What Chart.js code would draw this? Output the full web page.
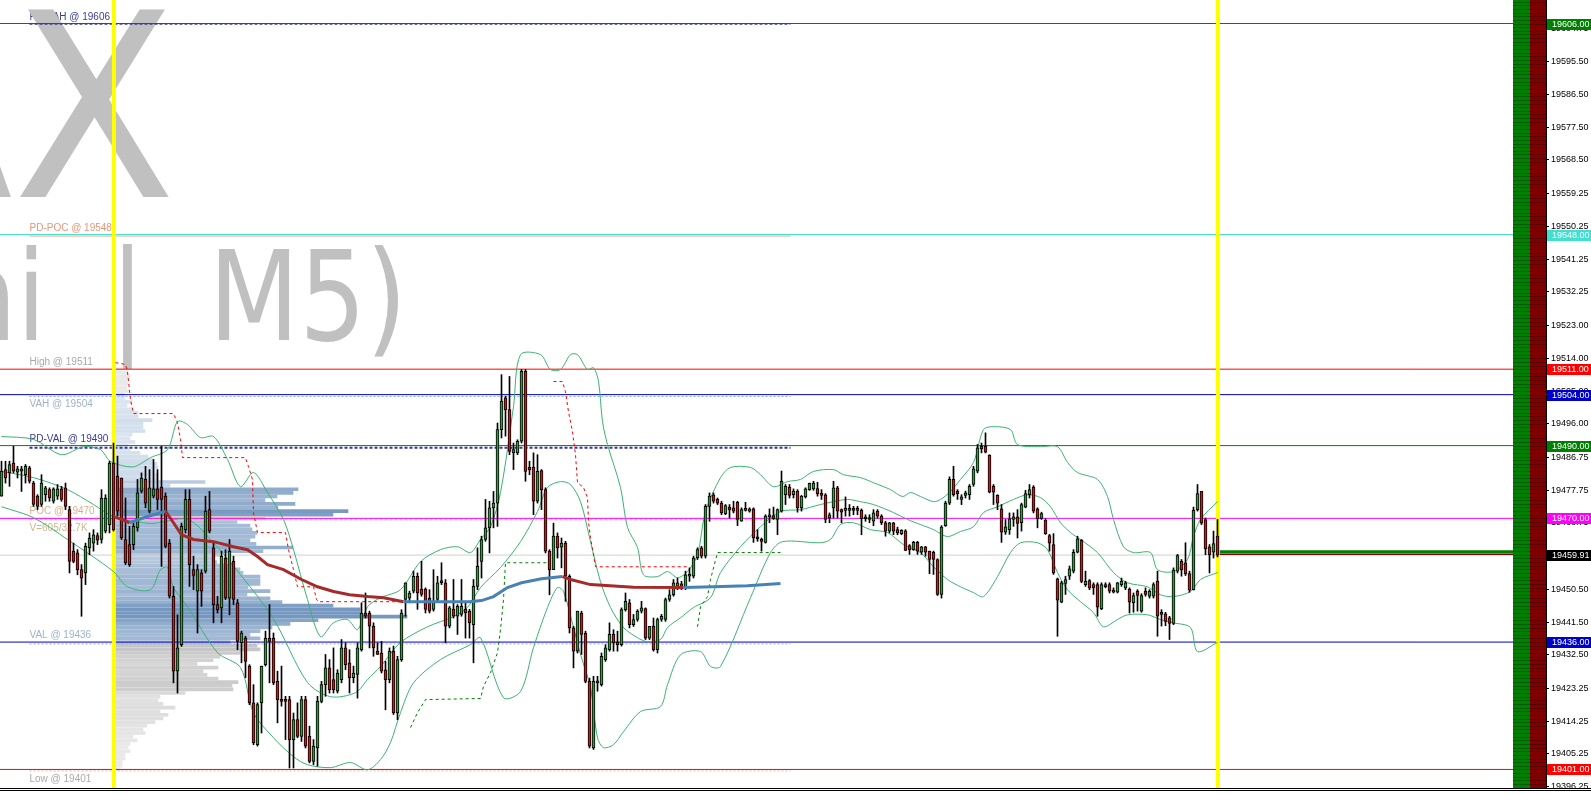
<!DOCTYPE html>
<html>
<head>
<meta charset="utf-8">
<script src="https://cdn.jsdelivr.net/npm/chart.js@4.4.0/dist/chart.umd.min.js"></script>
<style>
  html, body { margin: 0; padding: 0; background: #fff; }
</style>
</head>
<body>
<canvas id="chart" width="1591" height="794"></canvas>
<script>
// ---- candles (M5), oldest first ----
var opens = [
19476.1,19483.4,19482.5,19485.2,19482.7,19483.6,19482.0,19483.9,19479.7,19476.1,
19473.8,19476.5,19477.9,19474.7,19476.1,19478.1,19478.4,19472.4,19461.0,19460.5,
19455.9,19455.0,19461.9,19463.2,19465.3,19464.2,19466.5,19468.3,19485.2,19481.6,
19481.1,19464.2,19462.8,19462.8,19467.4,19477.5,19480.7,19472.0,19476.1,19478.1,
19478.6,19476.1,19463.2,19448.6,19428.0,19435.3,19466.9,19475.2,19455.9,19450.0,
19455.0,19455.5,19472.4,19461.9,19446.3,19445.4,19459.1,19448.1,19458.2,19446.8,
19435.8,19437.1,19429.4,19419.3,19407.8,19419.3,19429.8,19437.1,19437.1,19425.2,
19420.2,19420.2,19420.2,19409.2,19414.7,19410.1,19420.2,19410.1,19403.2,19406.9,
19419.7,19424.3,19428.9,19425.7,19422.5,19425.7,19434.4,19430.3,19426.2,19427.1,
19433.9,19444.0,19444.0,19440.4,19433.5,19433.0,19428.4,19425.7,19433.5,19416.5,
19431.2,19447.7,19448.1,19450.0,19454.1,19450.6,19450.6,19448.1,19445.0,19447.7,
19452.9,19452.3,19440.4,19445.1,19443.1,19443.6,19445.0,19444.5,19440.8,19451.3,
19458.2,19464.2,19467.4,19472.9,19474.2,19494.4,19503.1,19499.9,19488.0,19488.0,
19491.2,19510.4,19484.0,19484.0,19474.7,19483.1,19477.9,19461.0,19455.9,19465.1,
19462.1,19463.2,19454.1,19439.9,19433.5,19444.0,19438.5,19425.2,19406.9,19424.8,
19424.3,19431.2,19433.9,19438.1,19436.0,19435.3,19444.9,19446.8,19440.8,19442.2,
19444.5,19445.2,19437.1,19440.3,19433.9,19442.2,19442.2,19447.7,19449.0,19451.3,
19452.0,19450.9,19454.1,19454.1,19459.1,19461.9,19459.6,19473.3,19476.5,19475.2,
19474.2,19471.3,19473.1,19472.9,19474.4,19469.2,19472.2,19472.0,19472.6,19464.9,
19464.2,19463.4,19470.4,19470.8,19469.7,19472.0,19476.5,19478.6,19476.5,19477.5,
19472.9,19475.9,19477.9,19478.1,19478.2,19476.8,19476.5,19470.1,19472.9,19478.4,
19472.4,19472.2,19472.2,19472.6,19472.2,19472.2,19470.4,19470.1,19469.2,19472.0,
19470.6,19468.8,19466.5,19468.8,19466.9,19465.8,19466.6,19462.5,19461.4,19463.4,
19460.7,19462.2,19461.0,19460.7,19458.7,19449.1,19468.0,19474.2,19480.7,19477.5,
19475.2,19476.3,19476.5,19479.3,19483.0,19489.8,19489.8,19487.3,19478.8,19476.3,
19472.6,19466.2,19466.9,19469.7,19470.4,19468.8,19473.1,19476.5,19478.6,19472.6,
19470.0,19469.5,19465.3,19462.8,19453.4,19447.0,19452.1,19454.1,19455.5,19460.7,
19464.0,19451.8,19452.9,19451.8,19451.8,19445.1,19451.2,19451.8,19450.3,19449.7,
19451.8,19450.9,19450.6,19446.8,19450.0,19444.5,19450.0,19448.6,19448.6,19452.7,
19444.2,19443.8,19442.7,19441.1,19455.5,19458.2,19457.8,19454.8,19450.4,19472.4,
19477.4,19469.7,19462.2,19460.7,19465.1];
var highs = [
19485.7,19485.7,19485.7,19489.8,19484.3,19484.3,19484.8,19484.3,19480.2,19476.5,
19482.0,19478.8,19478.4,19478.4,19479.3,19478.8,19479.7,19473.3,19463.2,19461.4,
19457.3,19463.2,19466.0,19466.9,19466.0,19477.9,19476.5,19485.7,19490.7,19487.1,
19481.1,19475.6,19467.8,19468.7,19480.7,19482.5,19484.3,19483.4,19486.2,19483.4,
19489.8,19477.0,19464.2,19451.3,19443.5,19468.7,19477.9,19477.9,19459.6,19457.3,
19455.9,19476.1,19477.4,19463.2,19448.6,19461.0,19461.4,19464.2,19459.6,19447.7,
19439.0,19437.6,19429.8,19424.3,19419.3,19429.4,19439.0,19446.3,19438.5,19428.0,
19429.4,19421.1,19421.1,19416.5,19419.3,19421.1,19421.1,19412.9,19409.2,19421.1,
19425.2,19432.6,19431.2,19434.4,19428.4,19436.7,19435.8,19433.9,19429.4,19435.8,
19446.8,19449.5,19444.5,19441.3,19435.8,19436.2,19430.7,19434.4,19434.9,19432.1,
19444.9,19452.3,19450.0,19455.5,19455.0,19458.2,19450.9,19450.4,19455.9,19454.1,
19457.8,19453.2,19445.8,19453.2,19446.3,19453.2,19446.8,19445.0,19453.2,19461.9,
19465.1,19475.2,19474.7,19477.4,19496.2,19509.5,19503.6,19509.0,19490.7,19491.6,
19510.9,19510.9,19485.7,19488.0,19487.5,19483.4,19478.4,19461.4,19468.7,19466.0,
19464.6,19463.7,19454.5,19440.3,19444.5,19444.5,19439.0,19426.1,19426.6,19426.6,
19433.0,19435.3,19441.3,19439.4,19439.0,19445.4,19449.5,19447.7,19443.6,19444.9,
19447.2,19445.4,19440.3,19442.6,19442.6,19443.6,19448.1,19450.4,19453.2,19453.6,
19452.7,19455.5,19456.4,19459.6,19461.9,19462.3,19473.8,19477.0,19477.0,19475.6,
19474.7,19473.8,19473.8,19474.7,19474.7,19472.9,19474.4,19472.9,19472.9,19466.9,
19464.6,19471.0,19472.6,19473.1,19472.6,19483.0,19479.3,19479.3,19478.1,19477.9,
19476.3,19478.4,19479.7,19480.2,19479.9,19477.9,19476.8,19471.5,19480.2,19478.8,
19472.6,19475.9,19473.8,19473.3,19473.3,19472.6,19471.0,19471.0,19472.4,19472.4,
19471.0,19469.2,19468.9,19468.9,19467.6,19466.9,19466.9,19462.8,19463.7,19463.7,
19462.3,19462.3,19461.0,19461.0,19458.9,19468.0,19474.7,19481.4,19484.3,19477.9,
19476.5,19477.5,19479.3,19484.3,19490.3,19490.7,19493.5,19487.5,19479.3,19476.5,
19473.8,19469.7,19471.5,19471.5,19472.4,19474.2,19477.7,19479.3,19479.0,19472.9,
19471.7,19469.9,19465.6,19465.8,19453.6,19452.7,19454.1,19456.9,19461.4,19465.1,
19464.2,19455.5,19453.2,19452.3,19452.3,19452.3,19452.3,19452.3,19450.9,19452.4,
19453.6,19452.7,19450.9,19449.5,19450.4,19449.3,19450.9,19450.4,19452.3,19455.5,
19444.9,19444.2,19443.1,19456.4,19460.1,19458.7,19463.3,19455.5,19473.1,19479.3,
19477.4,19470.1,19462.8,19466.5,19469.7];
var lows = [
19476.1,19479.7,19478.8,19482.5,19481.1,19477.4,19479.7,19479.7,19473.3,19472.4,
19473.3,19474.7,19474.7,19474.2,19475.2,19474.7,19472.4,19455.0,19457.8,19454.5,
19443.1,19451.8,19460.0,19461.0,19462.8,19463.2,19466.0,19466.0,19466.5,19470.6,
19464.2,19457.3,19456.8,19461.4,19466.5,19477.0,19472.9,19471.5,19475.6,19472.4,
19456.8,19461.9,19448.1,19424.8,19422.0,19434.8,19466.0,19451.3,19450.4,19438.5,
19445.8,19455.0,19466.0,19441.3,19444.0,19441.3,19447.7,19443.5,19446.3,19433.9,
19430.3,19426.2,19418.8,19407.8,19407.4,19411.0,19429.4,19424.8,19424.3,19413.8,
19418.4,19409.2,19401.4,19401.4,19409.7,19408.7,19406.9,19402.8,19402.3,19401.9,
19419.3,19421.1,19422.0,19422.0,19422.0,19424.8,19428.4,19422.0,19424.8,19420.6,
19433.5,19442.6,19434.4,19432.1,19432.6,19427.5,19417.4,19424.8,19416.1,19414.7,
19430.7,19443.1,19446.8,19449.5,19445.0,19448.6,19444.0,19444.0,19444.5,19447.2,
19451.8,19435.8,19439.9,19442.6,19438.1,19443.1,19437.1,19437.1,19430.3,19450.4,
19453.6,19463.7,19460.5,19467.4,19467.8,19492.1,19492.6,19487.5,19483.4,19487.5,
19490.7,19480.2,19482.0,19471.0,19474.2,19472.4,19460.5,19449.0,19455.9,19459.1,
19456.4,19447.2,19438.5,19428.9,19433.0,19432.6,19424.8,19406.9,19406.5,19422.5,
19423.9,19430.7,19433.5,19433.5,19433.5,19434.9,19444.5,19439.9,19440.3,19441.7,
19444.0,19436.7,19436.7,19433.5,19433.0,19441.7,19441.7,19447.2,19448.6,19450.4,
19450.4,19450.4,19452.7,19453.6,19458.7,19459.1,19459.1,19469.2,19474.2,19473.8,
19471.0,19471.0,19470.1,19471.5,19468.0,19469.2,19472.0,19471.7,19463.4,19463.7,
19461.0,19463.2,19468.8,19469.7,19465.5,19471.7,19473.8,19475.6,19475.6,19471.7,
19472.0,19475.6,19477.7,19477.7,19476.1,19475.2,19468.8,19468.8,19470.1,19470.1,
19468.8,19470.6,19470.6,19471.0,19471.0,19465.5,19469.2,19468.8,19468.0,19470.1,
19468.3,19465.1,19466.0,19465.5,19465.5,19465.5,19461.1,19460.1,19461.2,19460.1,
19460.1,19459.6,19454.8,19454.6,19448.8,19448.1,19467.8,19473.8,19476.1,19475.2,
19473.8,19475.6,19475.2,19478.8,19482.5,19488.0,19488.0,19477.0,19473.8,19472.4,
19463.4,19465.6,19465.6,19467.8,19464.6,19466.5,19472.9,19475.6,19471.5,19467.4,
19469.7,19465.6,19461.0,19454.6,19437.6,19446.8,19449.1,19453.2,19455.0,19460.5,
19452.3,19451.3,19450.4,19449.1,19443.1,19444.9,19450.9,19449.5,19449.5,19449.5,
19451.3,19450.4,19444.0,19444.2,19444.5,19444.2,19448.6,19448.1,19448.1,19437.6,
19440.4,19440.5,19436.7,19440.8,19455.0,19454.1,19454.3,19449.7,19450.3,19472.0,
19468.3,19460.0,19455.0,19459.1,19459.4];
var closes = [
19483.0,19481.1,19484.8,19483.0,19483.6,19483.0,19484.3,19480.2,19473.8,19473.3,
19479.7,19478.4,19475.6,19478.1,19478.1,19475.2,19473.3,19458.2,19458.2,19455.9,
19453.6,19462.3,19464.6,19465.5,19464.0,19475.6,19475.6,19485.2,19466.9,19472.0,
19464.6,19457.8,19457.3,19467.8,19477.0,19481.1,19474.2,19478.4,19478.1,19475.2,
19475.2,19462.3,19448.6,19428.0,19434.4,19467.8,19475.2,19457.3,19454.3,19455.9,
19450.0,19472.0,19466.5,19446.3,19444.9,19459.6,19448.1,19461.0,19447.7,19436.2,
19438.5,19430.7,19419.3,19408.3,19418.8,19429.4,19437.1,19436.2,19424.8,19420.2,
19419.7,19419.7,19409.2,19414.7,19410.1,19420.2,19407.4,19403.2,19407.4,19419.7,
19424.3,19428.9,19422.9,19422.9,19427.5,19434.4,19429.8,19426.2,19427.5,19434.4,
19444.0,19443.1,19440.4,19434.4,19432.6,19428.0,19425.7,19433.5,19416.5,19431.2,
19444.0,19452.3,19449.5,19454.1,19449.5,19449.1,19445.0,19444.5,19447.2,19452.3,
19452.3,19440.4,19445.4,19443.1,19445.8,19445.8,19444.0,19441.3,19451.3,19456.8,
19464.2,19467.4,19472.9,19474.2,19494.4,19502.2,19499.9,19488.4,19488.9,19491.2,
19510.4,19482.9,19483.4,19474.7,19482.9,19477.9,19461.0,19455.9,19465.1,19461.9,
19463.2,19454.1,19439.9,19433.5,19444.5,19438.1,19425.2,19407.4,19425.2,19425.2,
19432.1,19434.4,19438.1,19435.8,19435.3,19444.9,19447.2,19440.8,19442.2,19444.5,
19445.4,19437.1,19440.3,19433.9,19442.2,19443.1,19447.7,19449.0,19452.3,19452.3,
19450.9,19454.5,19454.5,19459.1,19461.4,19459.6,19473.3,19476.1,19474.7,19474.2,
19471.5,19473.5,19472.4,19472.0,19469.7,19472.4,19472.6,19472.6,19464.6,19464.4,
19463.7,19470.6,19470.8,19469.9,19472.4,19480.2,19478.8,19476.3,19477.5,19472.9,
19476.1,19478.1,19479.6,19479.7,19476.8,19476.3,19469.7,19471.0,19478.4,19472.0,
19471.7,19472.6,19472.6,19472.2,19472.6,19469.9,19469.9,19469.7,19471.5,19470.6,
19468.8,19466.5,19468.8,19466.5,19466.0,19466.7,19461.2,19461.4,19463.4,19461.0,
19462.2,19460.7,19458.7,19458.7,19449.1,19467.6,19474.2,19480.7,19476.5,19476.8,
19475.9,19477.0,19478.8,19483.6,19489.4,19489.1,19488.2,19477.2,19477.2,19474.2,
19466.2,19467.7,19469.9,19470.4,19468.6,19473.8,19476.8,19477.9,19472.0,19469.9,
19471.3,19465.8,19463.2,19455.0,19447.5,19452.3,19453.2,19456.1,19460.7,19464.4,
19452.7,19452.7,19450.9,19450.9,19445.6,19451.8,19451.8,19450.0,19449.7,19452.3,
19452.7,19452.3,19447.0,19448.8,19448.8,19448.8,19449.1,19450.0,19451.8,19443.1,
19443.6,19441.7,19441.1,19455.8,19459.8,19455.8,19454.8,19450.3,19472.2,19476.8,
19468.7,19461.6,19460.0,19463.1,19459.9];

// ---- Bollinger bands, read at candle positions: [candle, price] ----
var bbUpper = [[0,19492.5],[8,19491.7],[15,19487.5],[20.5,19489.7],[24.75,19488.9],[27.25,19485.6],[33,19484.2],[37.25,19486.7],[41.5,19488.9],[44,19496.6],[46.5,19495.8],[49.75,19492.2],[53,19492.5],[56.5,19486.2],[59.75,19478.7],[63,19482.6],[66.5,19477.1],[70.5,19469.7],[73,19461.4],[76.5,19447.7],[79.75,19437.5],[83,19441.3],[86.5,19442.2],[89,19439.4],[91.5,19445.7],[94.75,19448.2],[99.75,19450.4],[104.75,19458.1],[109.75,19461.4],[114,19462.2],[117.25,19460.6],[119.75,19464.2],[122.25,19467.7],[124.75,19477.1],[128,19500.7],[129.75,19515.0],[134.75,19515.0],[137.25,19510.9],[139.75,19510.9],[142.25,19515.0],[144,19515.0],[146.5,19510.9],[148,19511.4],[149.25,19507.6],[150.25,19496.6],[151.5,19490.3],[154.75,19478.5],[156.5,19467.5],[159,19462.0],[160.5,19454.5],[164,19454.0],[166.5,19455.4],[169,19453.7],[171.5,19455.4],[174,19460.0],[176,19471.9],[179.75,19481.2],[182.25,19484.0],[187.25,19484.0],[189.75,19482.0],[193,19478.7],[196.5,19480.1],[199.75,19480.7],[203,19482.9],[208,19483.4],[210.5,19482.0],[214.75,19481.2],[218,19479.8],[222.25,19477.9],[225.25,19476.0],[227.25,19477.1],[229.75,19476.0],[233,19474.6],[234.75,19475.2],[237.25,19477.4],[239.75,19480.7],[243,19485.4],[245.5,19494.4],[248,19495.2],[252.25,19494.4],[254,19490.3],[259.75,19489.7],[264,19489.7],[266.5,19485.4],[269,19482.6],[274,19480.7],[276.5,19476.0],[278,19469.7],[280.5,19462.2],[283,19460.6],[287.25,19460.6],[289,19455.9],[293,19455.4],[296.5,19458.7],[298,19465.0],[299.75,19469.7],[304,19474.6]];
var bbMiddle = [[0,19482.9],[8,19481.2],[16.5,19477.9],[23,19473.8],[28,19470.5],[37.25,19468.6],[46.5,19469.7],[53,19463.3],[59.75,19454.5],[68,19442.4],[76.5,19424.9],[82.25,19421.0],[88.5,19422.1],[91.5,19425.7],[94.75,19429.3],[99.75,19435.9],[106.5,19440.2],[113,19443.0],[116.5,19445.5],[119.75,19451.0],[124.75,19456.5],[129.75,19463.6],[134,19471.9],[136.5,19478.5],[139.75,19480.1],[142.25,19479.3],[144.75,19474.6],[147.25,19463.6],[149.75,19452.6],[152.25,19445.5],[155.5,19440.0],[159,19437.2],[161.5,19436.1],[164.75,19436.7],[166.5,19440.0],[169.75,19442.7],[173,19445.5],[177.25,19448.2],[179.75,19455.1],[184.75,19462.2],[189.75,19467.7],[194.75,19471.9],[199.75,19472.4],[204.75,19473.8],[208,19474.6],[211.5,19475.2],[214.75,19474.6],[218,19473.8],[223,19471.6],[226.5,19469.7],[229.75,19468.3],[233,19466.9],[236.5,19465.0],[239.75,19466.4],[243,19467.7],[245.5,19471.6],[249,19473.2],[253,19475.2],[256.5,19476.5],[259.75,19475.7],[262.25,19473.2],[264.75,19468.8],[267.25,19466.1],[269.75,19464.2],[274,19460.6],[278,19455.1],[281.5,19452.3],[286.5,19451.2],[289.75,19449.0],[293,19448.5],[297.25,19449.9],[299.75,19453.2],[304,19455.1]];
var bbLower = [[0,19473.2],[8,19470.2],[16.5,19464.2],[28,19455.4],[31.5,19451.2],[37.25,19450.4],[39.75,19455.9],[41.5,19456.5],[43,19451.0],[46.5,19445.7],[54,19433.1],[59.75,19429.0],[63,19416.6],[68,19409.7],[73,19404.5],[76.5,19402.3],[82.25,19401.5],[87.25,19402.9],[91.5,19400.9],[94.75,19403.7],[97.25,19408.4],[99.75,19416.6],[103,19424.8],[109.75,19431.2],[117.25,19435.3],[119.75,19437.2],[125.5,19420.7],[129.75,19422.4],[133,19434.5],[136.5,19445.5],[139,19451.0],[140.5,19449.9],[143,19440.0],[144.75,19432.6],[147.25,19423.5],[149,19409.7],[150.5,19407.0],[153,19407.8],[155.5,19411.4],[159.75,19416.9],[164.75,19418.3],[166.5,19424.3],[169.75,19432.5],[174.75,19433.4],[177.25,19429.3],[179.75,19429.3],[187.25,19448.2],[192.25,19460.6],[195.25,19463.6],[204.75,19463.3],[207.25,19464.2],[209.75,19468.3],[213,19468.8],[217.25,19466.9],[221.5,19466.1],[225.5,19462.8],[229.75,19460.6],[233,19456.7],[236.5,19453.2],[239.75,19451.2],[243,19449.6],[245.5,19448.5],[249,19454.0],[252.25,19460.6],[254.75,19463.3],[259,19463.3],[261.5,19461.4],[264,19455.1],[266.5,19450.4],[269.75,19447.1],[273,19444.1],[275.5,19440.2],[279,19442.2],[281.5,19443.5],[286.5,19443.5],[289.75,19442.2],[293,19441.3],[297.25,19440.0],[299,19433.4],[304,19435.9]];

// ---- session average (blue rising / brown falling) ----
var avgLine = [[28,19470.5],[30,19469.7],[32,19468.8],[36.5,19470.5],[41,19471.9],[43,19468.8],[45,19465.5],[48,19464.2],[53,19463.6],[58,19462.2],[61.5,19461.4],[64,19459.5],[66.5,19457.3],[70.5,19455.9],[75,19453.2],[79,19451.2],[83,19449.9],[87,19449.0],[91.5,19448.5],[95.5,19448.2],[100.5,19447.1],[110,19447.1],[117,19447.1],[120,19447.4],[123,19448.5],[126.5,19451.0],[130,19452.3],[135,19453.4],[140.25,19454.0],[142.25,19453.2],[147.25,19451.8],[158,19451.1],[170.5,19451.0],[178,19451.2],[186.5,19451.5],[194.75,19452.1]];

// ---- trailing stop steps ----
var redStop = [[28.5,19512.8],[31,19512.3],[31.5,19510.3],[32.25,19502.6],[33,19498.8],[43,19498.8],[44,19496.3],[44.75,19491.7],[45.25,19486.7],[61,19486.7],[61.75,19484.2],[62.75,19480.7],[63,19471.6],[64,19466.1],[71,19466.1],[71.75,19461.4],[73,19455.9],[74,19451.2],[78,19451.2],[78.75,19447.7],[79.25,19447.1],[100.5,19447.1],[120,null],[138,19507.6],[140.25,19507.6],[141,19504.8],[141.75,19499.3],[142.75,19493.8],[143.5,19487.5],[144,19479.8],[145.5,19478.5],[146.5,19475.7],[146.75,19469.1],[147.25,19464.7],[148,19460.0],[148.5,19456.7],[171.5,19456.7]];
var greenStop = [[102.25,19412.5],[104,19416.6],[106,19420.2],[119.75,19420.5],[120.5,19423.8],[122.25,19427.6],[124,19433.1],[124.75,19439.4],[125.5,19447.7],[126,19457.8],[136.5,19457.8],[150,null],[174,19440.2],[174.75,19445.7],[176.5,19448.5],[177.25,19453.2],[179,19460.6],[194.75,19460.6]];

// ---- volume profile (one row per point, from the top) ----
var profTop = 19511;
var profVolumes = [
28,52,60,48,52,48,56,36,40,68,
48,68,92,92,148,112,112,120,68,60,
80,52,60,100,132,152,168,172,160,172,
172,360,220,732,712,648,600,720,652,932,
872,600,488,540,548,568,560,540,564,712,
592,420,392,408,472,500,512,580,580,580,
532,620,528,620,668,872,980,980,1168,812,
700,628,580,540,580,460,568,580,500,420,
392,328,412,352,368,412,492,468,472,280,
180,172,192,240,180,212,192,160,128,112,
120,72,88,60,52,60,40,40,28,28,
20];
var vah = 19504, val = 19436, poc = 19470;

// ---- key levels ----
var levelPrices = [19606, 19548, 19511, 19504, 19490, 19470, 19459.91, 19436, 19401];
var levelNames = ['PD-VAH @ 19606', 'PD-POC @ 19548', 'High @ 19511', 'VAH @ 19504', 'PD-VAL @ 19490', 'POC @ 19470', 'V=605/32.7K', 'VAL @ 19436', 'Low @ 19401'];
var levelNamePrices = [19606, 19548, 19511, 19504, 19490, 19470, 19470, 19436, 19401];
var bidPrice = 19459.91;
var sessionCandles = [28, 304];
var axisTicks = [19604.75,19595.50,19586.50,19577.50,19568.50,19559.25,19550.25,19541.25,19532.25,19523.00,19514.00,19505.00,19496.00,19486.75,19477.75,19468.75,19459.50,19450.50,19441.50,19432.50,19423.25,19414.25,19405.25,19396.25];
var yMin = 19395.90, yMax = 19612.46;

// ---- styles ----
var levelColors = ['#008000', '#40e0d0', '#ff0000', '#0000c0', '#008000', '#ff00ff', '#d0d0d0', '#0000c0', '#ff0000'];
var boxColors = ['#008000', '#40e0d0', '#ff0000', '#0000cc', '#008000', '#ff00ff', '#000000', '#0000cc', '#ff0000'];
var nameColors = ['#3c3c96', '#e9967a', '#a9a9a9', '#9fb3cb', '#3c3c96', '#d2b48c', '#d2b48c', '#9fb3cb', '#a9a9a9'];
var nameBelow = [false, false, false, true, false, false, true, false, true];
var segFrom = 7, segTo = 197.25;
var segStyles = [
  { p: 19605.8, c: '#333399', w: 1, d: [3, 2] },
  { p: 19547.6, c: '#f0a090', w: 1, d: [] },
  { p: 19503.5, c: '#8fb4e0', w: 1, d: [2, 2] },
  { p: 19489.4, c: '#3333aa', w: 2, d: [3, 2] },
  { p: 19469.6, c: '#d8bc90', w: 1, d: [3, 2] },
  { p: 19435.5, c: '#8fb4e0', w: 1, d: [2, 2] },
  { p: 19400.6, c: '#f0b0b0', w: 1, d: [2, 2] }
];

function pts(arr) { return arr.map(function (a) { return { x: a[0], y: a[1] }; }); }
function mix(a, b, t) {
  t = Math.max(0, Math.min(1, t));
  var r = Math.round(a[0] + (b[0] - a[0]) * t), g = Math.round(a[1] + (b[1] - a[1]) * t), bl = Math.round(a[2] + (b[2] - a[2]) * t);
  return 'rgb(' + r + ',' + g + ',' + bl + ')';
}

var profData = [], profColors = [];
profVolumes.forEach(function (v, i) {
  var p = profTop - i;
  profData.push({ x: v, y: p });
  if (p === poc) profColors.push('#e2cfa8');
  else if (p > vah || p < val) profColors.push(mix([236, 236, 236], [196, 196, 196], v / 600));
  else profColors.push(mix([226, 234, 243], [118, 152, 192], v / 950));
});

var datasets = [];
datasets.push({ type: 'bar', indexAxis: 'y', xAxisID: 'xv', yAxisID: 'y', data: profData, backgroundColor: profColors, barThickness: 3, grouped: false, order: 20 });

levelPrices.forEach(function (p, i) {
  datasets.push({ type: 'line', xAxisID: 'x', data: [{ x: -2, y: p }, { x: 390, y: p }], borderColor: levelColors[i], borderWidth: 1, pointRadius: 0, pointHoverRadius: 0, order: 15 });
});
segStyles.forEach(function (s) {
  datasets.push({ type: 'line', xAxisID: 'x', data: [{ x: segFrom, y: s.p }, { x: segTo, y: s.p }], borderColor: s.c, borderWidth: s.w, borderDash: s.d, pointRadius: 0, pointHoverRadius: 0, order: 14 });
});
datasets.push({ type: 'line', xAxisID: 'x', data: [{ x: sessionCandles[1] + 0.4, y: bidPrice + 0.95 }, { x: 390, y: bidPrice + 0.95 }], borderColor: '#008000', borderWidth: 3, pointRadius: 0, pointHoverRadius: 0, order: 13 });
datasets.push({ type: 'line', xAxisID: 'x', data: [{ x: sessionCandles[1] + 0.4, y: bidPrice + 0.25 }, { x: 390, y: bidPrice + 0.25 }], borderColor: '#800000', borderWidth: 1.5, pointRadius: 0, pointHoverRadius: 0, order: 13 });
sessionCandles.forEach(function (c) {
  datasets.push({ type: 'line', xAxisID: 'x', data: [{ x: c + 0.1, y: 19380 }, { x: c + 0.1, y: 19630 }], borderColor: '#ffff00', borderWidth: 4, pointRadius: 0, pointHoverRadius: 0, order: 12 });
});
[bbUpper, bbMiddle, bbLower].forEach(function (b) {
  datasets.push({ type: 'line', xAxisID: 'x', data: pts(b), borderColor: '#3cb371', borderWidth: 1, pointRadius: 0, pointHoverRadius: 0, tension: 0.3, order: 10 });
});
datasets.push({ type: 'line', xAxisID: 'x', data: pts(redStop), borderColor: '#ff0000', borderWidth: 1, borderDash: [3, 3], pointRadius: 0, pointHoverRadius: 0, spanGaps: false, order: 9 });
datasets.push({ type: 'line', xAxisID: 'x', data: pts(greenStop), borderColor: '#008000', borderWidth: 1, borderDash: [3, 3], pointRadius: 0, pointHoverRadius: 0, spanGaps: false, order: 9 });
datasets.push({
  type: 'bar', xAxisID: 'x', yAxisID: 'y',
  data: closes.map(function (c, i) { return { x: i, y: [lows[i], highs[i]] }; }),
  backgroundColor: '#000', barThickness: 1, grouped: false, order: 5
});
datasets.push({
  type: 'bar', xAxisID: 'x', yAxisID: 'y',
  data: closes.map(function (c, i) { return { x: i, y: [opens[i], c] }; }),
  backgroundColor: closes.map(function (c, i) { return c >= opens[i] ? '#2e9e3a' : '#cc1a1a'; }),
  borderColor: '#000', borderWidth: 1, borderSkipped: false, minBarLength: 2,
  barThickness: 3, grouped: false, order: 4
});
datasets.push({
  type: 'line', xAxisID: 'x', data: pts(avgLine), borderWidth: 3, pointRadius: 0, pointHoverRadius: 0, order: 2,
  segment: { borderColor: function (ctx) { return ctx.p1.parsed.y >= ctx.p0.parsed.y ? '#4682b4' : '#a52a2a'; } }
});

var decor = {
  id: 'decor',
  beforeDraw: function (chart) {
    var ctx = chart.ctx, xs = chart.scales.x, ys = chart.scales.y;
    ctx.save();
    ctx.fillStyle = '#fff';
    ctx.fillRect(0, 0, chart.width, chart.height);
    ctx.font = '10px "Liberation Sans", Arial, sans-serif';
    ctx.textAlign = 'left';
    var lx = xs.getPixelForValue(segFrom);
    levelNames.forEach(function (t, i) {
      var py = ys.getPixelForValue(levelNamePrices[i]);
      ctx.fillStyle = nameColors[i];
      if (nameBelow[i]) { ctx.textBaseline = 'top'; ctx.fillText(t, lx, py + 5); }
      else { ctx.textBaseline = 'alphabetic'; ctx.fillText(t, lx, py - 4); }
    });
    // symbol watermark
    ctx.fillStyle = '#c0c0c0';
    ctx.textAlign = 'right';
    ctx.textBaseline = 'alphabetic';
    ctx.save();
    ctx.translate(176, 197); ctx.scale(0.93, 1);
    ctx.font = '256px "DejaVu Sans", sans-serif';
    ctx.fillText('DAX', 0, 0);
    ctx.restore();
    ctx.save();
    ctx.translate(407, 340); ctx.scale(0.84, 1);
    ctx.font = '125px "DejaVu Sans", sans-serif';
    try { ctx.wordSpacing = '36px'; } catch (e) {}
    ctx.fillText('(Mini | M5)', 0, 0);
    ctx.restore();
    ctx.restore();
  },
  afterDatasetsDraw: function (chart) {
    var ctx = chart.ctx, xs = chart.scales.x, ys = chart.scales.y, a = chart.chartArea;
    var x0 = Math.round(xs.getPixelForValue(377.75)), x1 = Math.round(xs.getPixelForValue(382)), x2 = a.right;
    ctx.save();
    ctx.fillStyle = '#008000'; ctx.fillRect(x0, a.top, x1 - x0, a.bottom - a.top);
    ctx.fillStyle = '#800000'; ctx.fillRect(x1, a.top, x2 - x1, a.bottom - a.top);
    for (var p = Math.ceil(ys.min); p <= ys.max; p++) {
      var py = Math.round(ys.getPixelForValue(p));
      ctx.fillStyle = '#005c00'; ctx.fillRect(x0, py, x1 - x0, 1);
      ctx.fillStyle = '#580000'; ctx.fillRect(x1, py, x2 - x1, 1);
    }
    ctx.restore();
  },
  afterDraw: function (chart) {
    var ctx = chart.ctx, ys = chart.scales.y, a = chart.chartArea;
    ctx.save();
    ctx.font = '9px "Liberation Sans", Arial, sans-serif';
    ctx.textAlign = 'left';
    ctx.textBaseline = 'middle';
    levelPrices.forEach(function (p, i) {
      var py = Math.round(ys.getPixelForValue(p));
      ctx.fillStyle = boxColors[i];
      ctx.fillRect(a.right + 1, py - 5, chart.width - a.right - 1, 11);
      ctx.fillStyle = '#fff';
      ctx.fillText(p.toFixed(2), a.right + 6, py + 0.5);
    });
    ctx.fillStyle = '#000';
    ctx.fillRect(0, a.bottom, chart.width, 1);
    ctx.fillRect(0, a.bottom + 2, chart.width, 1);
    ctx.restore();
  }
};

new Chart(document.getElementById('chart'), {
  type: 'bar',
  data: { datasets: datasets },
  options: {
    responsive: false,
    animation: false,
    devicePixelRatio: 1,
    events: [],
    layout: { autoPadding: false, padding: { left: 0, right: 0, top: 0, bottom: 6 } },
    plugins: { legend: { display: false }, tooltip: { enabled: false } },
    scales: {
      x: { type: 'linear', display: false, min: -0.375, max: 386.125, offset: false },
      xv: { type: 'linear', axis: 'x', position: 'bottom', display: false, min: -460, max: 5724, offset: false },
      y: {
        type: 'linear', position: 'right', min: yMin, max: yMax, beginAtZero: false, offset: false,
        afterFit: function (s) { s.width = 45; s.paddingTop = 0; s.paddingBottom = 0; },
        afterBuildTicks: function (s) { s.ticks = axisTicks.map(function (v) { return { value: v }; }); },
        ticks: {
          autoSkip: false, padding: 2, color: '#000',
          font: { family: '"Liberation Sans", Arial, sans-serif', size: 9 },
          callback: function (v) { return Number(v).toFixed(2); }
        },
        grid: { offset: false, drawOnChartArea: false, drawTicks: true, tickLength: 3, color: '#000' },
        border: { display: true, color: '#000' }
      }
    }
  },
  plugins: [decor]
});
</script>
</body>
</html>
